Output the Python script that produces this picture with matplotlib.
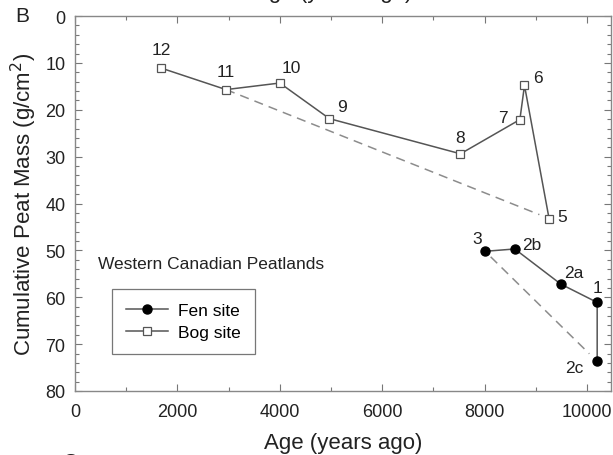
import matplotlib
matplotlib.use("Agg")
import matplotlib.pyplot as plt
from matplotlib.ticker import MultipleLocator

plt.rcParams['font.family'] = ['Liberation Sans', 'DejaVu Sans']

# Bog site (open squares)
bog_labels = ["12", "11", "10", "9", "8", "7", "6", "5"]
bog_age = [1680, 2950, 4000, 4970, 7530, 8690, 8780, 9260]
bog_mass = [11.1, 15.7, 14.3, 21.9, 29.4, 22.1, 14.8, 43.2]

# Fen site (filled circles)
fen_labels = ["3", "2b", "2a", "1", "2c"]
fen_age = [8010, 8590, 9490, 10200, 10200]
fen_mass = [50.2, 49.7, 57.2, 61.1, 73.7]

# label offsets (points)
bog_off = [(0, 13), (0, 13), (8.6, 11.5), (9.4, 8.6), (0, 12), (-12, 1.5), (9.4, 5.8), (9.6, 1.4)]
fen_off = [(-6, 9), (12, 3), (9.4, 8.4), (0, 11), (-16.5, -4.3)]

fig = plt.figure(figsize=(6.13, 4.56), dpi=100)
ax = fig.add_axes([75/613, 1-392/456, (611-75)/613, (392-17)/456])

line_col = '#555555'

def shorten(x0, y0, x1, y1, f0, f1):
    return ([x0 + (x1-x0)*f0, x0 + (x1-x0)*f1], [y0 + (y1-y0)*f0, y0 + (y1-y0)*f1])

dx, dy = shorten(bog_age[1], bog_mass[1], bog_age[-1], bog_mass[-1], 0.0, 0.97)
ax.plot(dx, dy, ls=(0, (6, 4)), color='#8c8c8c', lw=1.1, zorder=1)
dx, dy = shorten(fen_age[0], fen_mass[0], fen_age[-1], fen_mass[-1], 0.05, 0.93)
ax.plot(dx, dy, ls=(0, (6, 4)), color='#8c8c8c', lw=1.1, zorder=1)

ax.plot(bog_age, bog_mass, '-s', color=line_col, lw=1.1, markersize=6,
        markerfacecolor='white', markeredgecolor='#555555', markeredgewidth=0.9,
        label='Bog site', zorder=3)
ax.plot(fen_age, fen_mass, '-o', color=line_col, lw=1.1, markersize=6.5,
        markerfacecolor='black', markeredgecolor='black',
        label='Fen site', zorder=3)

for lab, x, y, off in zip(bog_labels, bog_age, bog_mass, bog_off):
    ax.annotate(lab, (x, y), xytext=off, textcoords='offset points',
                ha='center', va='center', fontsize=12.5, color='#222222')
for lab, x, y, off in zip(fen_labels, fen_age, fen_mass, fen_off):
    ax.annotate(lab, (x, y), xytext=off, textcoords='offset points',
                ha='center', va='center', fontsize=12.5, color='#222222')

ax.text(450, 52.8, "Western Canadian Peatlands", fontsize=12.5, va='center',
        ha='left', color='#222222')

ax.set_xlim(0, 10470)
ax.set_ylim(80, 0)
ax.xaxis.set_major_locator(MultipleLocator(2000))
ax.xaxis.set_minor_locator(MultipleLocator(1000))
ax.yaxis.set_major_locator(MultipleLocator(10))
ax.yaxis.set_minor_locator(MultipleLocator(2))
ax.tick_params(which='both', direction='in', top=True, right=True,
               color='#777777', labelsize=13, labelcolor='#222222')
ax.tick_params(which='major', length=5, width=0.8)
ax.tick_params(which='minor', length=3, width=0.8)
ax.tick_params(axis='x', which='major', pad=8.5)
ax.tick_params(axis='y', which='major', pad=7)
for s in ax.spines.values():
    s.set_color('#888888')
    s.set_linewidth(1.0)

ax.set_xlabel("Age (years ago)", fontsize=16, color='#222222', labelpad=9)
ax.set_ylabel("Cumulative Peat Mass (g/cm$^2$)", fontsize=16, color='#222222', labelpad=4)

handles, labels = ax.get_legend_handles_labels()
leg = ax.legend(handles[::-1], labels[::-1], loc='upper left',
                bbox_to_anchor=((112-75)/536, 1-(290-17)/375),
                fontsize=12.5, frameon=True, fancybox=False, handlelength=2.4,
                borderpad=0.8, labelspacing=0.4, handletextpad=0.6,
                borderaxespad=0)
leg.get_frame().set_edgecolor('#555555')
leg.get_frame().set_linewidth(0.9)

fig.text(22/613, 1-17/456, "B", fontsize=15, ha='center', va='center', color='#222222')
# cut-off texts at figure edges (from neighbouring panels)
fig.text(333/613, 1+2/456, "Age (years ago)", fontsize=16, ha='center', va='baseline',
         color='#222222')
fig.text(70/613, 1-453/456, "C", fontsize=15, ha='center', va='top', color='#222222')

fig.savefig("out.png", dpi=100)
